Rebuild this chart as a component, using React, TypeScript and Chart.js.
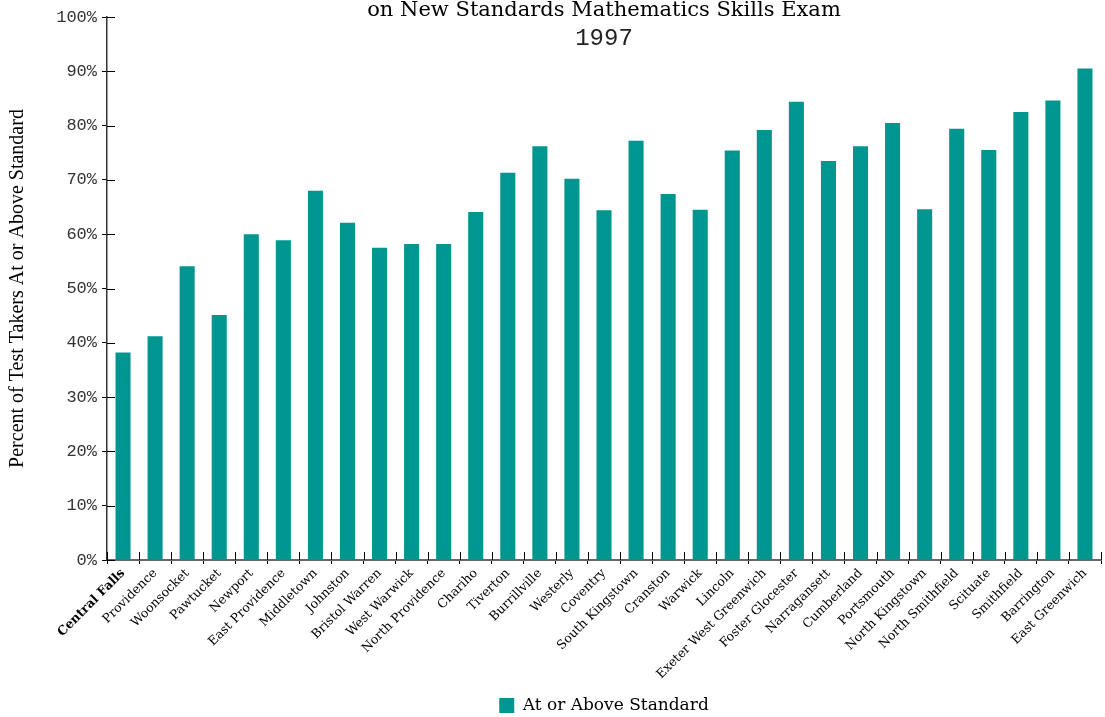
import React, { useEffect, useRef } from "react";
import { Chart, registerables } from "chart.js";

Chart.register(...registerables);

const titleLine = "on New Standards Mathematics Skills Exam";
const subtitleLine = "1997";
const yAxisTitle = "Percent of Test Takers At or Above Standard";
const seriesLabel = "At or Above Standard";

const districts = [
  "Central Falls", "Providence", "Woonsocket", "Pawtucket", "Newport",
  "East Providence", "Middletown", "Johnston", "Bristol Warren", "West Warwick",
  "North Providence", "Chariho", "Tiverton", "Burrillville", "Westerly",
  "Coventry", "South Kingstown", "Cranston", "Warwick", "Lincoln",
  "Exeter West Greenwich", "Foster Glocester", "Narragansett", "Cumberland", "Portsmouth",
  "North Kingstown", "North Smithfield", "Scituate", "Smithfield", "Barrington",
  "East Greenwich",
];

const percentAtOrAbove = [
  38.2, 41.2, 54.1, 45.1, 60.0,
  58.9, 68.0, 62.1, 57.5, 58.2,
  58.2, 64.1, 71.3, 76.2, 70.2,
  64.4, 77.2, 67.4, 64.5, 75.4,
  79.2, 84.4, 73.5, 76.2, 80.5,
  64.6, 79.4, 75.5, 82.5, 84.6,
  90.5,
];

const yTicks = [0, 10, 20, 30, 40, 50, 60, 70, 80, 90, 100];

const BAR_COLOR = "#009690";

const titlePlugin = {
  id: "customTitle",
  afterDraw(chart: any) {
    const { ctx, chartArea } = chart;
    const cx = (chartArea.left + chartArea.right) / 2;
    ctx.save();
    ctx.fillStyle = "#000";
    ctx.textAlign = "center";
    ctx.textBaseline = "alphabetic";
    ctx.font = '21px "DejaVu Serif"';
    ctx.fillText(titleLine, cx, 16);
    ctx.fillStyle = "#222";
    ctx.font = '24px "Liberation Mono"';
    ctx.fillText(subtitleLine, cx, 45);
    ctx.restore();
  },
};

const innerTicksPlugin = {
  id: "innerTicks",
  afterDatasetsDraw(chart: any) {
    const { ctx, chartArea, scales } = chart;
    const x = scales.x;
    const y = scales.y;
    ctx.save();
    ctx.strokeStyle = "#000";
    ctx.lineWidth = 1;
    ctx.beginPath();
    y.ticks.forEach((_t: any, i: number) => {
      const py = Math.round(y.getPixelForTick(i)) + 0.5;
      ctx.moveTo(chartArea.left, py);
      ctx.lineTo(chartArea.left + 8, py);
    });
    const n = x.ticks.length;
    const w = x.getPixelForValue(1) - x.getPixelForValue(0);
    const start = x.getPixelForValue(0) - w / 2;
    for (let i = 0; i <= n; i++) {
      const px = Math.round(start + i * w) + 0.5;
      ctx.moveTo(px, chartArea.bottom);
      ctx.lineTo(px, chartArea.bottom - 8);
    }
    ctx.stroke();
    ctx.restore();
  },
};

export default function App() {
  const canvasRef = useRef<HTMLCanvasElement | null>(null);

  useEffect(() => {
    document.body.style.margin = "0";
    const canvas = canvasRef.current;
    if (!canvas) return;
    const chart = new Chart(canvas, {
      type: "bar",
      data: {
        labels: districts,
        datasets: [
          {
            label: seriesLabel,
            data: percentAtOrAbove,
            backgroundColor: BAR_COLOR,
            borderWidth: 0,
            barPercentage: 0.47,
            categoryPercentage: 1.0,
          },
        ],
      },
      options: {
        responsive: false,
        animation: false,
        layout: { padding: { top: 17, right: 4, left: 0, bottom: -7 } },
        plugins: {
          title: { display: false },
          tooltip: { enabled: false },
          legend: {
            display: true,
            position: "bottom",
            fullSize: false,
            labels: {
              boxWidth: 15,
              boxHeight: 15,
              padding: 4,
              color: "#000",
              font: { family: "DejaVu Serif", size: 17 },
            },
          },
        },
        scales: {
          x: {
            offset: true,
            grid: {
              display: true,
              offset: true,
              drawOnChartArea: false,
              drawTicks: true,
              tickLength: 4,
              color: "#000",
            },
            border: { display: true, color: "#666", width: 2 },
            ticks: {
              autoSkip: false,
              minRotation: 45,
              maxRotation: 45,
              padding: 2,
              color: "#000",
              font: (ctx: any) => ({
                family: "DejaVu Serif",
                size: 12.5,
                weight: ctx.index === 0 ? "bold" : "normal",
              }),
            },
            afterFit: (scale: any) => {
              scale.height = 133;
            },
          },
          y: {
            min: 0,
            max: 100,
            afterBuildTicks: (scale: any) => {
              scale.ticks = yTicks.map((v) => ({ value: v }));
            },
            grid: {
              display: true,
              drawOnChartArea: false,
              drawTicks: true,
              tickLength: 5,
              color: "#000",
            },
            border: { display: true, color: "#333", width: 1.5 },
            ticks: {
              color: "#333",
              padding: 5,
              font: { family: "Liberation Mono", size: 17 },
              callback: (v: any) => `${v}%`,
            },
            title: {
              display: true,
              text: yAxisTitle,
              color: "#000",
              padding: { top: 6, bottom: 0 },
              font: { family: "Liberation Serif", size: 20 },
            },
            afterFit: (scale: any) => {
              scale.width = 107;
            },
          },
        },
      },
      plugins: [titlePlugin, innerTicksPlugin],
    });
    return () => chart.destroy();
  }, []);

  return (
    <div style={{ width: 1105, height: 717 }}>
      <canvas ref={canvasRef} width={1105} height={717} style={{ display: "block" }} />
    </div>
  );
}
